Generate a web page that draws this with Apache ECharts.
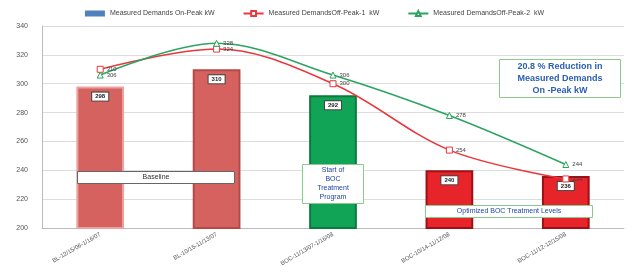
<!DOCTYPE html>
<html lang="en">
<head>
    <meta charset="UTF-8">
    <title>BOC Treatment Demands</title>
</head>
<body style="margin:0">
<div id="main" style="width:629px;height:279px;"></div>
</body>
<script src="https://cdn.jsdelivr.net/npm/echarts@6/dist/echarts.min.js"></script>
<script>
    var categories = ['BL-12/15/06-1/16/07', 'BL-10/15-11/13/07', 'BOC-11/13/07-1/16/08', 'BOC-10/14-11/12/08', 'BOC-11/12-12/15/08'];
    var onPeak = [298, 310, 292, 240, 236];
    var offPeak1 = [310, 324, 300, 254, 234];
    var offPeak2 = [306, 328, 306, 278, 244];
    var yTicks = [200, 220, 240, 260, 280, 300, 320, 340];

    // bar fill / border per period
    var barColors = [
        ['#d5625f', '#eba3a1'],
        ['#d5625f', '#b24a48'],
        ['#12a456', '#0b7a3e'],
        ['#e7242a', '#9e1015'],
        ['#e7242a', '#9e1015']
    ];

    var chart = echarts.init(document.getElementById('main'));
    var font = 'Liberation Sans';

    function noteBox(left, top, w, h, lines, color, border, bold, size, lh) {
        return {
            type: 'group', left: left, top: top, z: 100,
            children: [
                {type: 'rect', z: 100, shape: {x: 0, y: 0, width: w, height: h},
                    style: {fill: '#fff', stroke: border, lineWidth: 1}},
                {type: 'text', z: 101, x: w / 2, y: h / 2,
                    style: {text: lines, fill: color, fontSize: size, fontFamily: font,
                        fontWeight: bold ? 'bold' : 'normal', align: 'center', verticalAlign: 'middle',
                        lineHeight: lh || size + 3}}
            ]
        };
    }

    var option = {
        animation: false,
        textStyle: {fontFamily: font},
        grid: {left: 42, right: 5, top: 26, bottom: 51},
        legend: {
            top: 5, left: 'center', itemGap: 28, itemWidth: 20, itemHeight: 6,
            textStyle: {fontSize: 7, color: '#444'},
            data: [
                {name: 'Measured Demands On-Peak kW', icon: 'rect', itemStyle: {color: '#4f81bd'}},
                {name: 'Measured DemandsOff-Peak-1  kW'},
                {name: 'Measured DemandsOff-Peak-2  kW'}
            ]
        },
        xAxis: {
            type: 'category',
            data: categories,
            axisLine: {lineStyle: {color: '#bbb'}},
            axisTick: {show: false},
            axisLabel: {rotate: 30, fontSize: 6, color: '#555', margin: 6}
        },
        yAxis: {
            type: 'value', min: yTicks[0], max: yTicks[yTicks.length - 1], interval: 20,
            axisLine: {show: true, lineStyle: {color: '#bbb'}},
            axisTick: {show: false},
            axisLabel: {fontSize: 7, color: '#555', margin: 14},
            splitLine: {lineStyle: {color: '#ddd'}}
        },
        series: [
            {
                name: 'Measured Demands On-Peak kW',
                type: 'bar',
                barWidth: '41%',
                itemStyle: {color: '#4f81bd'},
                data: onPeak.map(function (v, i) {
                    return {value: v, itemStyle: {color: barColors[i][0], borderColor: barColors[i][1], borderWidth: 2}};
                }),
                label: {
                    show: true, position: 'insideTop', distance: 6,
                    fontSize: 6, fontWeight: 'bold', color: '#222',
                    backgroundColor: '#fff', borderColor: '#444', borderWidth: 1, padding: [1, 3]
                },
                z: 1
            },
            {
                name: 'Measured DemandsOff-Peak-1  kW',
                type: 'line', smooth: 0.35,
                data: offPeak1,
                symbol: 'rect', symbolSize: 6,
                itemStyle: {color: '#fff', borderColor: '#e8383d', borderWidth: 1},
                lineStyle: {color: '#e8383d', width: 1.5},
                label: {show: true, position: 'right', fontSize: 6, color: '#444', distance: 3},
                z: 3
            },
            {
                name: 'Measured DemandsOff-Peak-2  kW',
                type: 'line', smooth: 0.35,
                data: offPeak2,
                symbol: 'triangle', symbolSize: 6,
                itemStyle: {color: '#fff', borderColor: '#2aa45e', borderWidth: 1},
                lineStyle: {color: '#2aa45e', width: 1.5},
                label: {show: true, position: 'right', fontSize: 6, color: '#444', distance: 3},
                z: 3
            }
        ],
        graphic: [
            noteBox(77, 171, 157, 12, 'Baseline', '#333', '#666', false, 7),
            noteBox(302, 164, 61, 39, 'Start of\nBOC\nTreatment\nProgram', '#2145a8', '#8cc98c', false, 7, 9),
            noteBox(425, 205, 167, 12, 'Optimized BOC Treatment Levels', '#2145a8', '#8cc98c', false, 7),
            noteBox(499, 59, 121, 38, '20.8 % Reduction in\nMeasured Demands\nOn -Peak kW', '#2a5fb0', '#8cc98c', true, 9)
        ]
    };

    chart.setOption(option);
</script>
</html>
